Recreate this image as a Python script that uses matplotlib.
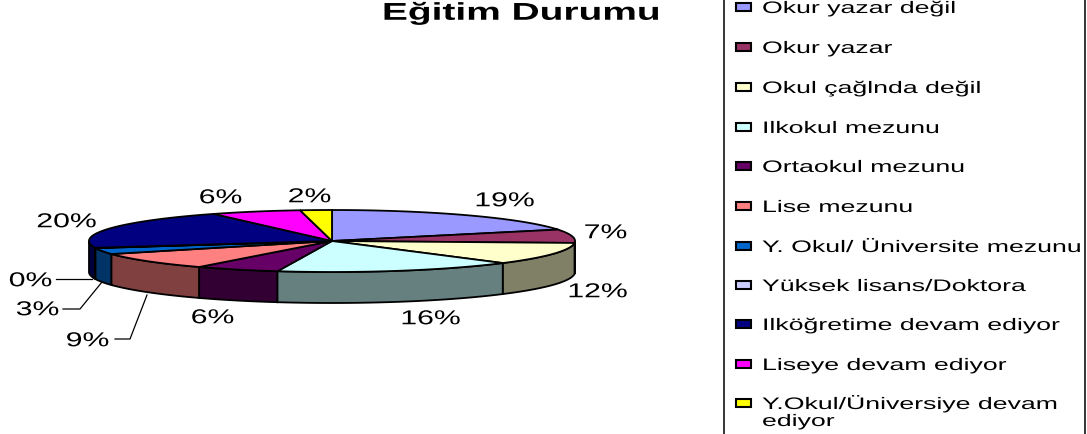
import numpy as np
import matplotlib
matplotlib.use("Agg")
import matplotlib.pyplot as plt
from matplotlib.patches import Polygon, Rectangle
from matplotlib.text import Text
from matplotlib.textpath import TextPath
from matplotlib.transforms import Affine2D, Bbox

title = "Eğitim Durumu"
categories = ["Okur yazar değil", "Okur yazar", "Okul çağlnda değil", "Ilkokul mezunu",
              "Ortaokul mezunu", "Lise mezunu", "Y. Okul/ Üniversite mezunu",
              "Yüksek lisans/Doktora", "Ilköğretime devam ediyor", "Liseye devam ediyor",
              "Y.Okul/Üniversiye devam\nediyor"]
values = [19.0, 7.0, 11.6, 16.0, 5.6, 8.9, 3.2, 0.2, 20.4, 6.0, 2.1]
top_colors = ["#9999FF", "#993366", "#FFFFCC", "#CCFFFF", "#660066", "#FF8080",
              "#0066CC", "#CCCCFF", "#000080", "#FF00FF", "#FFFF00"]
side_colors = ["#4D4D80", "#4D1A33", "#808066", "#668080", "#330033", "#804040",
               "#003366", "#666680", "#000040", "#800080", "#808000"]
label_pos = [(504, 199), (605, 231), (597, 290), (430, 317), (212, 316), (87, 339),
             (37, 308), (30, 279), (66, 220), (220, 196), (309, 195)]
legend_y = [7, 47, 87, 127, 166, 206, 246, 285, 324, 364, 403]

CX, CY, RX, RY, DEPTH = 332, 241, 243, 31, 31


class WideText(Text):
    """Real text drawn with a horizontal stretch, as in the reference."""
    stretch = 1.0

    def _layout_paths(self):
        dpi = self.figure.dpi
        k = dpi / 72
        x, y = self.get_transform().transform(self.get_position())
        lines = self.get_text().split("\n")
        lh = self.get_size() * k * 1.02
        out = []
        for i, line in enumerate(lines):
            tp = TextPath((0, 0), line, size=self.get_size(), prop=self.get_fontproperties())
            w = tp.get_extents().x1 * k * self.stretch if line.strip() else 0
            dx = -w / 2 if self.get_ha() == "center" else 0
            dy = -self.get_size() * k * 0.36 - i * lh
            tr = Affine2D().scale(k * self.stretch, k).translate(x + dx, y + dy)
            out.append((tp, tr, w))
        return out

    def draw(self, renderer):
        gc = renderer.new_gc()
        gc.set_linewidth(0)
        gc.set_foreground("black")
        gc.set_antialiased(True)
        for tp, tr, _ in self._layout_paths():
            renderer.draw_path(gc, tp, tr, (0, 0, 0, 1))
        gc.restore()

    def get_window_extent(self, renderer=None, dpi=None):
        boxes = [tp.get_extents().transformed(tr) for tp, tr, w in self._layout_paths() if w > 0]
        return Bbox.union(boxes)


def put(ax, x, y, s, size, stretch, ha="left", weight="normal"):
    t = WideText(x, y, s, fontsize=size, ha=ha, va="center", family="Liberation Sans",
                 fontweight=weight, color="black")
    t.stretch = stretch
    ax.add_artist(t)
    t.set_transform(ax.transData)
    return t


fig = plt.figure(figsize=(10.87, 4.34), dpi=100)
ax = fig.add_axes([0, 0, 1, 1])
ax.set_xlim(0, 1087)
ax.set_ylim(434, 0)
ax.axis("off")


def rim(theta, dz=0):
    return np.c_[CX + RX * np.sin(theta), CY - RY * np.cos(theta) + dz]


cum = np.r_[0, np.cumsum(values)] / sum(values) * 2 * np.pi
order = sorted(range(len(values)), key=lambda i: abs((cum[i] + cum[i + 1]) / 2 - np.pi), reverse=True)
for i in order:
    a = max(cum[i], np.pi / 2)
    b = min(cum[i + 1], 3 * np.pi / 2)
    if b > a:
        t = np.linspace(a, b, 60)
        pts = np.vstack([rim(t), rim(t[::-1], DEPTH)])
        ax.add_patch(Polygon(pts, closed=True, fc=side_colors[i], ec="black", lw=1.3, zorder=2))
for i in range(len(values)):
    t = np.linspace(cum[i], cum[i + 1], 80)
    pts = np.vstack([[CX, CY], rim(t)])
    ax.add_patch(Polygon(pts, closed=True, fc=top_colors[i], ec="black", lw=1.3, zorder=3))

for (x, y), v in zip(label_pos, values):
    put(ax, x, y, f"{v:.0f}%", 14.5, 1.5, ha="center")

ax.plot([56, 92], [279, 279], color="black", lw=0.9, zorder=1)
ax.plot([63, 80, 102], [309, 309, 282], color="black", lw=0.9, zorder=1)
ax.plot([115, 130, 147], [339, 339, 295], color="black", lw=0.9, zorder=1)

put(ax, 520, 11, title, 17.5, 1.6, ha="center", weight="bold")

ax.plot([724, 724], [0, 434], color="black", lw=1.1)
ax.plot([1085, 1085], [0, 434], color="black", lw=1.1)
for y, name, col in zip(legend_y, categories, top_colors):
    ax.add_patch(Rectangle((736, y - 4), 15, 8, fc=col, ec="black", lw=1.5))
    put(ax, 762, y, name, 12, 1.6)

fig.savefig("out.png", dpi=100)
